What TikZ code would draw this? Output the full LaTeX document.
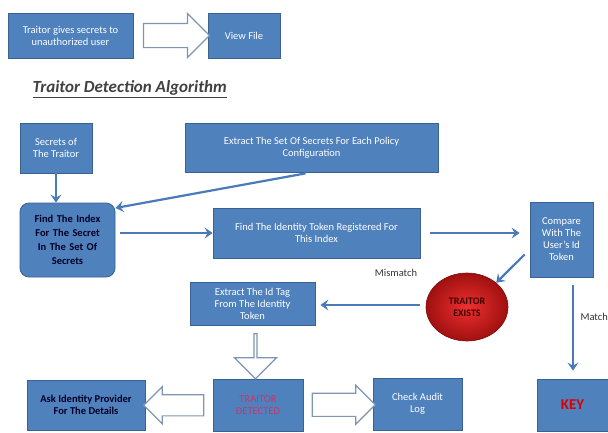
\documentclass[tikz,border=0pt]{standalone}
\usepackage{fontspec}
\setmainfont{Carlito}
\usetikzlibrary{arrows.meta,shapes.geometric,shapes.arrows,calc}
\definecolor{boxblue}{HTML}{4F81BD}
\definecolor{boxedge}{HTML}{3A6291}
\definecolor{arrblue}{HTML}{4A7AB8}
\definecolor{blockedge}{HTML}{7F96B2}
\definecolor{redtxt}{HTML}{D0306A}
\definecolor{ballin}{HTML}{EE3030}
\definecolor{ballout}{HTML}{A01010}
\tikzset{
  bluebox/.style={draw=boxedge, line width=0.8pt, fill=boxblue, text=white, align=center,
    font=\fontsize{10.5}{12}\selectfont, inner sep=2pt},
  flowarrow/.style={draw=arrblue, line width=2.2pt, -{Stealth[length=8pt,width=11pt,inset=3pt]}},
  blockarrow/.style={single arrow, draw=blockedge, fill=white, line width=1.2pt,
    inner sep=0pt, minimum width=40pt, single arrow head extend=10pt},
  lbl/.style={font=\fontsize{10.5}{12}\selectfont, text=black!80},
}
\begin{document}
\begin{tikzpicture}[x=1pt,y=-1pt]
\useasboundingbox (0,0) rectangle (608,432);
% top row
\node[bluebox, minimum width=125pt, minimum height=45pt] (give) at (70.5,35.5) {Traitor gives secrets to\\unauthorized user};
\node[bluebox, minimum width=72pt, minimum height=45pt] (view) at (244,35.5) {View File};
\node[blockarrow, minimum height=66pt, inner ysep=11.5pt] (ba1) at ($(give.east)!0.5!(view.west)$) {};
% title
\node[anchor=west, text=black!75, font=\fontsize{17}{19}\selectfont\bfseries\itshape] (title) at (29,89) {\underline{Traitor Detection Algorithm}};
% algorithm boxes
\node[bluebox, minimum width=72pt, minimum height=50pt] (secrets) at (56,148) {Secrets of\\The Traitor};
\node[bluebox, minimum width=253pt, minimum height=49pt] (extract) at (311.5,147.5) {Extract The Set Of Secrets For Each Policy\\Configuration};
\node[bluebox, rounded corners=9pt, text=black!85!blue, font=\fontsize{10.5}{14}\selectfont\bfseries, minimum width=95pt, minimum height=74pt, text width=88pt] (index) at (67.5,240) {Find The Index\\For The Secret\\In The Set Of\\Secrets};
\node[bluebox, minimum width=207pt, minimum height=50pt] (identity) at (316.5,233) {Find The Identity Token Registered For\\This Index};
\node[bluebox, minimum width=63pt, minimum height=75pt] (compare) at (561.5,239.5) {Compare\\With The\\User's Id\\Token};
\node[ellipse, draw=ballout!80!black, line width=0.6pt, shading=radial, inner color=ballin, outer color=ballout, minimum width=82pt, minimum height=68pt, align=center, text=black!75!red, font=\fontsize{10}{12}\selectfont\bfseries] (exists) at (467,307) {TRAITOR\\EXISTS};
\node[bluebox, minimum width=125pt, minimum height=43pt] (idtag) at (252.5,303.5) {Extract The Id Tag\\From The Identity\\Token};
\node[bluebox, minimum width=90pt, minimum height=52pt, text=redtxt] (detected) at (258,405.5) {TRAITOR\\DETECTED};
\node[bluebox, minimum width=118pt, minimum height=50pt, text=black!85!blue, font=\fontsize{10.5}{12}\selectfont\bfseries] (ask) at (86,405) {Ask Identity Provider\\For The Details};
\node[bluebox, minimum width=89pt, minimum height=52pt] (audit) at (417.5,404) {Check Audit\\Log};
\node[bluebox, minimum width=71pt, minimum height=52pt, text=red!85!black, font=\fontsize{15}{17}\selectfont\bfseries] (key) at (572.5,405) {KEY};
% connectors
\draw[flowarrow] (secrets.south) -- (index.north -| secrets.south);
\draw[flowarrow] ($(extract.south)+(-6,1)$) -- (index.north east |- 0,208);
\draw[flowarrow] (index.east) ++(5,-7) coordinate (a1) -- (a1 -| identity.west) ;
\draw[flowarrow] (identity.east) ++(10,0) coordinate (a2) -- ($(compare.west)+(-10,-6.5)$);
\draw[flowarrow] ($(compare.west)+(-5,15)$) -- (exists.north east);
\draw[flowarrow] ($(exists.west)+(-6,-2)$) -- ($(idtag.east)+(5,1.5)$);
\draw[flowarrow] ($(compare.south)+(11.5,8)$) -- ($(key.north)+(0.5,-8)$);
\node[lbl, anchor=center] (mism) at (396,273) {Mismatch};
\node[lbl, anchor=west] (match) at (577,317) {Match};
% block arrows
\node[blockarrow, minimum height=45pt, minimum width=42pt, inner ysep=13.5pt, single arrow head extend=7.5pt, shape border rotate=270] (ba2) at ($(idtag.south)+(3,30)$) {};
\node[blockarrow, minimum height=60pt, minimum width=36pt, inner ysep=10pt, single arrow head extend=8pt, shape border rotate=180] (ba3) at ($(ask.east)!0.5!(detected.west)$) {};
\node[blockarrow, minimum height=63pt, minimum width=38pt, inner ysep=11pt, single arrow head extend=8pt] (ba4) at ($(detected.east)!0.5!(audit.west)$) {};
\end{tikzpicture}
\end{document}
